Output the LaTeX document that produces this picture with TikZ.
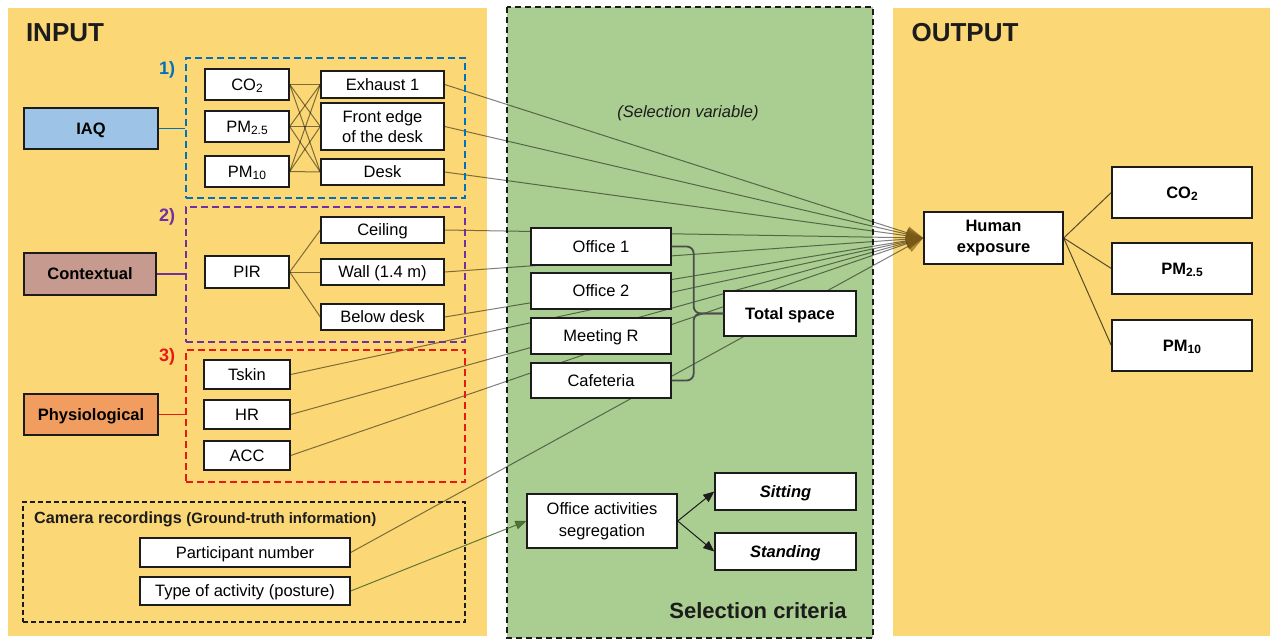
\documentclass[tikz,border=0pt]{standalone}
\usepackage{fontspec}
\setmainfont{Liberation Sans}
\usetikzlibrary{arrows.meta,positioning,calc}
\definecolor{panelYellow}{RGB}{251, 216, 117}
\definecolor{panelGreen}{RGB}{170, 205, 145}
\definecolor{inkDark}{RGB}{28, 28, 28}
\definecolor{iaqBlue}{RGB}{157, 195, 230}
\definecolor{ctxBrown}{RGB}{198, 154, 142}
\definecolor{physOrange}{RGB}{241, 157, 95}
\definecolor{grpBlue}{RGB}{0, 112, 192}
\definecolor{grpPurple}{RGB}{112, 48, 160}
\definecolor{grpRed}{RGB}{230, 25, 25}
\definecolor{tipBrown}{RGB}{120, 88, 20}
\definecolor{arrowGreen}{RGB}{60, 95, 35}

\pgfdeclarelayer{panels}
\pgfdeclarelayer{wires}
\pgfsetlayers{panels,wires,main}

\newcommand{\lowsub}[1]{\raisebox{-0.12em}{\fontsize{12}{12}\selectfont #1}}

\tikzset{
  box/.style={draw=inkDark, line width=1.4pt, fill=white, align=center, inner sep=0pt,
    font=\fontsize{16.5}{20.5}\selectfont},
  sbox/.style={box, text height=13pt, text depth=1.2pt},
  boldbox/.style={box, font=\bfseries\fontsize{16.5}{21}\selectfont},
  sboldbox/.style={boldbox, text height=13pt, text depth=1.2pt},
  cat/.style={sbox, fill=#1, font=\bfseries\fontsize{16.5}{20}\selectfont,
    minimum width=134, minimum height=41},
  grp/.style={draw=#1, line width=2.2pt, dash pattern=on 7pt off 4pt,
    inner sep=0pt},
  grpnum/.style={text=#1, font=\bfseries\fontsize{18}{20}\selectfont},
  hdr/.style={font=\bfseries\fontsize{26}{28}\selectfont, text=inkDark},
  wire/.style={draw=black, opacity=0.5, line width=1pt},
  feed/.style={wire, -{Triangle[length=17pt, width=13pt, color=tipBrown]}},
  link/.style={draw=#1, line width=1.4pt},
}

\begin{document}
\begin{tikzpicture}[x=1pt, y=-1pt]
\useasboundingbox (0,0) rectangle (1276,640);

% three panels
\begin{pgfonlayer}{panels}
  \fill[panelYellow] (8,8) rectangle (487,636);
  \fill[panelGreen] (507,7) rectangle (873,638);
  \draw[inkDark, line width=2pt, dash pattern=on 6pt off 4pt] (507,7) rectangle (873,638);
  \fill[panelYellow] (893,8) rectangle (1270,636);
\end{pgfonlayer}

\node[hdr] at (65,33) {INPUT};
\node[hdr] at (965,33) {OUTPUT};

% input categories
\node[cat=iaqBlue] (iaq) at (91,128.5) {IAQ};
\node[cat=ctxBrown, minimum width=132, minimum height=42] (ctx) at (90,274) {Contextual};
\node[cat=physOrange] (phys) at (91,414.5) {Physiological};

% dashed groups
\node[grp=grpBlue, minimum width=279, minimum height=140] (g1) at (325.5,128) {};
\node[grp=grpPurple, minimum width=279, minimum height=135] (g2) at (325.5,274.5) {};
\node[grp=grpRed, minimum width=279, minimum height=132] (g3) at (325.5,416) {};
\node[grpnum=grpBlue] at (167,70) {1)};
\node[grpnum=grpPurple] at (167,217) {2)};
\node[grpnum=grpRed] at (167,357) {3)};

\draw[link=grpBlue] (iaq.east) -- (iaq.east -| g1.west);
\draw[link=grpPurple] (ctx.east) -- (ctx.east -| g2.west);
\draw[link=grpRed] (phys.east) -- (phys.east -| g3.west);

% 1) IAQ sensors
\node[sbox, minimum width=84, minimum height=31] (co2) at (247,84.5) {CO\lowsub{2}};
\node[sbox, minimum width=84, minimum height=31] (pm25) at (247,126.5) {PM\lowsub{2.5}};
\node[sbox, minimum width=84, minimum height=31] (pm10) at (247,171.5) {PM\lowsub{10}};
\node[sbox, minimum width=123, minimum height=27] (exh) at (382.5,84.5) {Exhaust 1};
\node[box, minimum width=123, minimum height=47] (front) at (382.5,126.5) {Front edge\\of the desk};
\node[sbox, minimum width=123, minimum height=26] (desk) at (382.5,172) {Desk};

% 2) PIR
\node[sbox, minimum width=84, minimum height=32] (pir) at (247,272) {PIR};
\node[sbox, minimum width=123, minimum height=26] (ceil) at (382.5,230) {Ceiling};
\node[sbox, minimum width=123, minimum height=26] (wall) at (382.5,272) {Wall (1.4 m)};
\node[sbox, minimum width=123, minimum height=26] (below) at (382.5,317) {Below desk};

% 3) wearable
\node[sbox, minimum width=86, minimum height=29] (tskin) at (247,374.5) {Tskin};
\node[sbox, minimum width=86, minimum height=29] (hr) at (247,414.5) {HR};
\node[sbox, minimum width=86, minimum height=29] (acc) at (247,455.5) {ACC};

% camera
\node[grp=inkDark, line width=1.6pt, dash pattern=on 5pt off 3pt,
  minimum width=442, minimum height=120] (cam) at (244,562) {};
\node[anchor=west, inner sep=0pt, text=inkDark] (camtitle) at (34,519)
  {\bfseries\fontsize{16.2}{18}\selectfont Camera recordings
   {\fontsize{15}{18}\selectfont(Ground-truth information)}};
\node[sbox, minimum width=210, minimum height=29] (part) at (245,552.5) {Participant number};
\node[sbox, minimum width=210, minimum height=28] (act) at (245,591) {Type of activity (posture)};

% selection criteria
\node[font=\itshape\fontsize{16.5}{20}\selectfont, text=inkDark] at (688,113) {(Selection variable)};
\node[sbox, minimum width=140, minimum height=37] (off1) at (601,246.5) {Office 1};
\node[sbox, minimum width=140, minimum height=36] (off2) at (601,291) {Office 2};
\node[sbox, minimum width=140, minimum height=36] (meet) at (601,336) {Meeting R};
\node[sbox, minimum width=140, minimum height=35] (cafe) at (601,380.5) {Cafeteria};
\node[sboldbox, minimum width=132, minimum height=45] (total) at (790,313.5) {Total space};
\node[box, minimum width=150, minimum height=54, font=\fontsize{16.5}{22}\selectfont] (seg) at (602,521)
  {Office activities\\segregation};
\node[sboldbox, font=\bfseries\itshape\fontsize{16.5}{20}\selectfont,
  minimum width=141, minimum height=37] (sit) at (785.5,491.5) {Sitting};
\node[sboldbox, font=\bfseries\itshape\fontsize{16.5}{20}\selectfont,
  minimum width=141, minimum height=37] (stand) at (785.5,551.5) {Standing};
\node[font=\bfseries\fontsize{22}{24}\selectfont, text=inkDark] at (758,611) {Selection criteria};

% output
\node[boldbox, minimum width=139, minimum height=52] (expo) at (993.5,238) {Human\\exposure};
\node[sboldbox, minimum width=140, minimum height=51] (oco2) at (1182,192.5) {CO\lowsub{2}};
\node[sboldbox, minimum width=140, minimum height=51] (opm25) at (1182,268.5) {PM\lowsub{2.5}};
\node[sboldbox, minimum width=140, minimum height=51] (opm10) at (1182,345.5) {PM\lowsub{10}};

% brace grouping the rooms
\draw[draw=black!70, line width=1.8pt, rounded corners=7pt]
  (off1.east) -| ($(off1.east)!0.5!(cafe.east) + (22,0)$) -- (total.west);
\draw[draw=black!70, line width=1.8pt, rounded corners=7pt]
  (cafe.east) -| ($(off1.east)!0.5!(cafe.east) + (22,0)$) -- (total.west);

\begin{pgfonlayer}{wires}
  % sensor placements
  \foreach \s in {co2,pm25,pm10}
    \foreach \t in {exh,front,desk}
      \draw[wire] (\s.east) -- (\t.west);
  \foreach \t in {ceil,wall,below}
    \draw[wire] (pir.east) -- (\t.west);
  % everything feeds human exposure
  \foreach \s in {exh,front,desk,ceil,wall,below,tskin,hr,acc,part}
    \draw[feed] (\s.east) -- (expo.west);
  \draw[wire, draw=arrowGreen, opacity=0.8, -{Triangle[length=11pt, width=9pt]}]
    (act.east) -- (seg.west);
  % outputs
  \foreach \t in {oco2,opm25,opm10}
    \draw[wire, opacity=0.65] (expo.east) -- (\t.west);
\end{pgfonlayer}

\draw[line width=1pt, draw=inkDark, -{Triangle[length=11pt, width=9pt]}] (seg.east) -- (sit.west);
\draw[line width=1pt, draw=inkDark, -{Triangle[length=11pt, width=9pt]}] (seg.east) -- (stand.west);

\end{tikzpicture}
\end{document}
